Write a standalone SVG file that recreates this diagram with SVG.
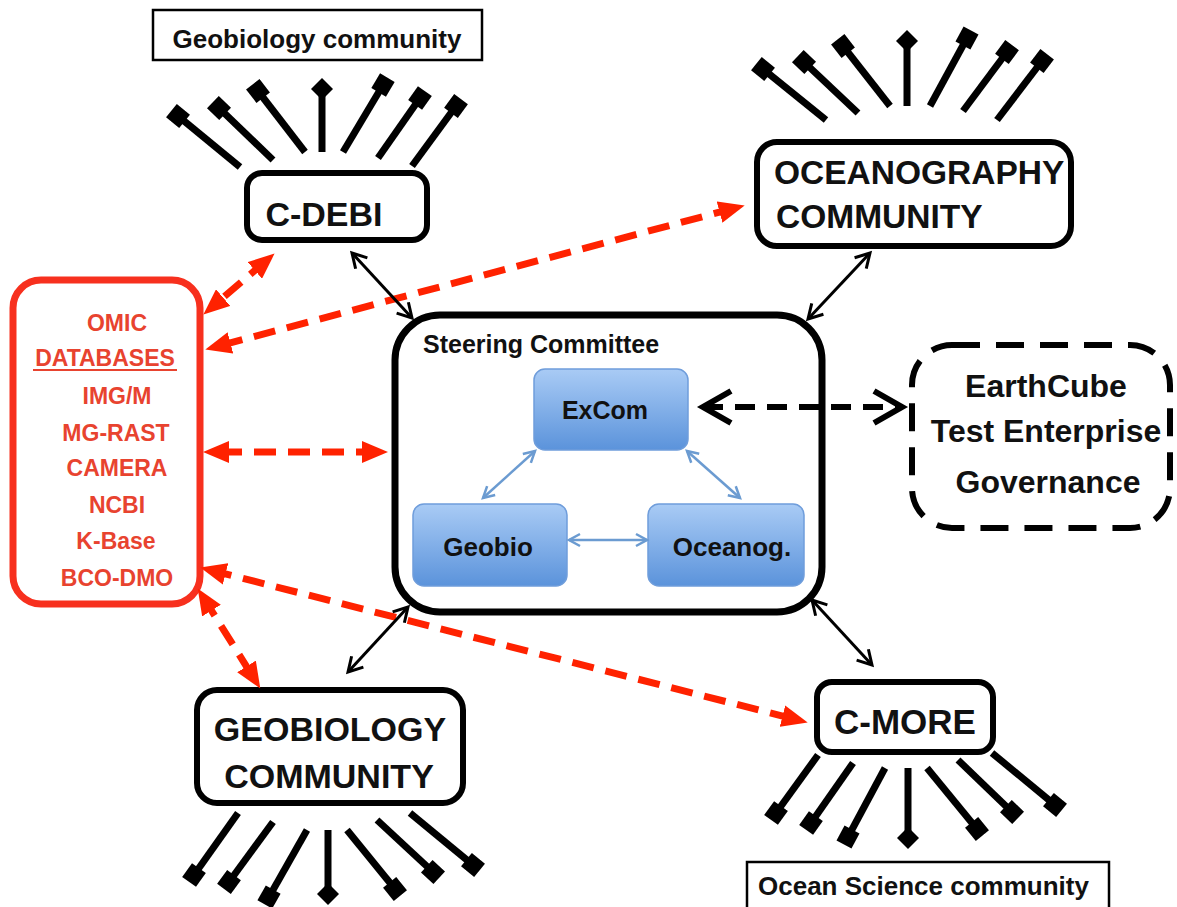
<svg xmlns="http://www.w3.org/2000/svg" width="1177" height="907" viewBox="0 0 1177 907">
<style>
text{font-family:"Liberation Sans",Arial,sans-serif;font-weight:bold;fill:#111}
.box{fill:#fff;stroke:#000;stroke-width:6}
.thin{fill:#fff;stroke:#000;stroke-width:2.5}
.ray{stroke:#000;stroke-width:7;fill:none}
.ray-sq{marker-end:url(#sq)}
.ray-dm{marker-end:url(#dm)}
.red{stroke:#ff2200;stroke-width:7;fill:none;stroke-dasharray:22 12;marker-start:url(#redhead);marker-end:url(#redhead)}
.blk{stroke:#000;stroke-width:3;fill:none;marker-start:url(#bhead);marker-end:url(#bhead)}
.blu{stroke:#6b9bd1;stroke-width:2.5;fill:none;marker-start:url(#uhead);marker-end:url(#uhead)}
.blue-box{fill:url(#bg);stroke:#6f9ddb;stroke-width:1.5}
.rt{fill:#e8432f;font-size:23px}
</style>
<defs>
<linearGradient id="bg" x1="0" y1="0" x2="0" y2="1">
<stop offset="0" stop-color="#a9cbf5"/>
<stop offset="1" stop-color="#5b93db"/>
</linearGradient>
<marker id="sq" markerUnits="userSpaceOnUse" viewBox="0 0 18 18" markerWidth="18" markerHeight="18" refX="9" refY="9" orient="auto">
<rect x="0.5" y="0.5" width="17" height="17" fill="#000"/>
</marker>
<marker id="dm" markerUnits="userSpaceOnUse" viewBox="0 0 22 22" markerWidth="22" markerHeight="22" refX="11" refY="11" orient="auto">
<polygon points="0,11 11,0 22,11 11,22" fill="#000"/>
</marker>
<marker id="redhead" markerUnits="userSpaceOnUse" viewBox="0 0 26 22" markerWidth="26" markerHeight="22" refX="16" refY="11" orient="auto-start-reverse">
<path d="M0,0 L26,11 L0,22 Z" fill="#ff2200"/>
</marker>
<marker id="bhead" markerUnits="userSpaceOnUse" viewBox="0 0 18 18" markerWidth="18" markerHeight="18" refX="15" refY="9" orient="auto-start-reverse" style="overflow:visible">
<path d="M1,1 L15,9 L1,17" fill="none" stroke="#000" stroke-width="3"/>
</marker>
<marker id="uhead" markerUnits="userSpaceOnUse" viewBox="0 0 14 14" markerWidth="14" markerHeight="14" refX="12" refY="7" orient="auto-start-reverse" style="overflow:visible">
<path d="M1,1 L12,7 L1,13" fill="none" stroke="#6b9bd1" stroke-width="2.5"/>
</marker>
<marker id="dhead" markerUnits="userSpaceOnUse" viewBox="0 0 34 36" markerWidth="34" markerHeight="36" refX="30" refY="18" orient="auto-start-reverse" style="overflow:visible">
<path d="M2,2 L30,18 L2,34" fill="none" stroke="#000" stroke-width="6"/>
</marker>
</defs>

<g id="rays-cdebi" class="ray">
<line class="ray-sq" x1="240" y1="167" x2="178" y2="116"/>
<line class="ray-sq" x1="273" y1="160" x2="219" y2="108"/>
<line class="ray-sq" x1="305" y1="152" x2="258" y2="91"/>
<line class="ray-dm" x1="322" y1="152" x2="322" y2="89"/>
<line class="ray-sq" x1="343" y1="152" x2="383" y2="85"/>
<line class="ray-sq" x1="378" y1="158" x2="420" y2="98"/>
<line class="ray-sq" x1="412" y1="166" x2="456" y2="106"/>
</g>
<g id="rays-ocean" class="ray">
<line class="ray-sq" x1="826" y1="120" x2="763" y2="69"/>
<line class="ray-sq" x1="858" y1="113" x2="804" y2="62"/>
<line class="ray-sq" x1="890" y1="106" x2="843" y2="46"/>
<line class="ray-dm" x1="907" y1="106" x2="907" y2="41"/>
<line class="ray-sq" x1="930" y1="106" x2="967" y2="38"/>
<line class="ray-sq" x1="963" y1="111" x2="1007" y2="52"/>
<line class="ray-sq" x1="997" y1="120" x2="1042" y2="61"/>
</g>
<g id="rays-geobio" class="ray">
<line class="ray-sq" x1="238" y1="813" x2="194" y2="875"/>
<line class="ray-sq" x1="273" y1="822" x2="229" y2="882"/>
<line class="ray-sq" x1="307" y1="830" x2="269" y2="897"/>
<line class="ray-dm" x1="328" y1="830" x2="328" y2="894"/>
<line class="ray-sq" x1="347" y1="830" x2="395" y2="889"/>
<line class="ray-sq" x1="377" y1="820" x2="433" y2="872"/>
<line class="ray-sq" x1="410" y1="813" x2="473" y2="865"/>
</g>
<g id="rays-cmore" class="ray">
<line class="ray-sq" x1="818" y1="755" x2="776" y2="813"/>
<line class="ray-sq" x1="853" y1="763" x2="811" y2="823"/>
<line class="ray-sq" x1="885" y1="768" x2="848" y2="837"/>
<line class="ray-dm" x1="908" y1="768" x2="908" y2="838"/>
<line class="ray-sq" x1="927" y1="768" x2="977" y2="829"/>
<line class="ray-sq" x1="958" y1="760" x2="1012" y2="812"/>
<line class="ray-sq" x1="992" y1="753" x2="1055" y2="805"/>
</g>

<g id="geobio-label-top">
<rect class="thin" x="153" y="10" width="329" height="50"/>
<text x="317" y="48" font-size="26" text-anchor="middle">Geobiology community</text>
</g>

<g id="cdebi">
<rect class="box" x="247" y="173" width="180" height="67" rx="15"/>
<text x="324" y="226" font-size="34" text-anchor="middle">C-DEBI</text>
</g>

<g id="oceanography">
<rect class="box" x="757" y="142" width="314" height="104" rx="20"/>
<text x="774" y="184" font-size="33.5">OCEANOGRAPHY</text>
<text x="776" y="228" font-size="33.5">COMMUNITY</text>
</g>

<g id="omic">
<rect x="13" y="280" width="187" height="324" rx="28" fill="#fff" stroke="#f7301e" stroke-width="7"/>
<text class="rt" x="117" y="331" text-anchor="middle">OMIC</text>
<text class="rt" x="105" y="366" text-anchor="middle">DATABASES</text>
<line x1="33" y1="370" x2="177" y2="370" stroke="#e8432f" stroke-width="2"/>
<text class="rt" x="117" y="404" text-anchor="middle">IMG/M</text>
<text class="rt" x="116" y="441" text-anchor="middle">MG-RAST</text>
<text class="rt" x="117" y="476" text-anchor="middle">CAMERA</text>
<text class="rt" x="117" y="513" text-anchor="middle">NCBI</text>
<text class="rt" x="116" y="549" text-anchor="middle">K-Base</text>
<text class="rt" x="117" y="586" text-anchor="middle">BCO-DMO</text>
</g>

<g id="steering">
<rect x="395" y="315" width="427" height="297" rx="45" fill="#fff" stroke="#000" stroke-width="7"/>
<text x="423" y="353" font-size="25">Steering Committee</text>
</g>

<g id="excom">
<rect class="blue-box" x="534" y="369" width="154" height="81" rx="11"/>
<text x="605" y="419" font-size="25" text-anchor="middle">ExCom</text>
</g>
<g id="geobio">
<rect class="blue-box" x="413" y="504" width="154" height="82" rx="11"/>
<text x="488" y="556" font-size="26" text-anchor="middle">Geobio</text>
</g>
<g id="oceanog">
<rect class="blue-box" x="648" y="504" width="156" height="82" rx="11"/>
<text x="732" y="556" font-size="26" text-anchor="middle">Oceanog.</text>
</g>

<g id="earthcube">
<rect x="912" y="345" width="258" height="183" rx="40" fill="#fff" stroke="#000" stroke-width="6" stroke-dasharray="28 16"/>
<text x="1046" y="397" font-size="32" text-anchor="middle">EarthCube</text>
<text x="1046" y="442" font-size="32" text-anchor="middle">Test Enterprise</text>
<text x="1048" y="493" font-size="32" text-anchor="middle">Governance</text>
</g>

<g id="geobiology-community">
<rect class="box" x="197" y="690" width="266" height="113" rx="20"/>
<text x="330" y="741" font-size="34" text-anchor="middle">GEOBIOLOGY</text>
<text x="329" y="788" font-size="34" text-anchor="middle">COMMUNITY</text>
</g>

<g id="cmore">
<rect class="box" x="817" y="682" width="176" height="70" rx="15"/>
<text x="905" y="734" font-size="35" text-anchor="middle">C-MORE</text>
</g>

<g id="ocean-science-label">
<rect class="thin" x="747" y="862" width="362" height="60"/>
<text x="758" y="895" font-size="26">Ocean Science community</text>
</g>

<g id="connectors">
<line class="red" x1="267" y1="260" x2="211" y2="308"/>
<line class="red" x1="735" y1="208" x2="215" y2="347"/>
<line class="red" x1="378" y1="452" x2="213" y2="452"/>
<line class="red" x1="210" y1="570" x2="798" y2="720"/>
<line class="red" x1="203" y1="597" x2="255" y2="680"/>
<line class="blk" x1="352" y1="253" x2="412" y2="318"/>
<line class="blk" x1="870" y1="253" x2="808" y2="319"/>
<line class="blk" x1="408" y1="607" x2="348" y2="672"/>
<line class="blk" x1="812" y1="600" x2="872" y2="665"/>
<line class="blu" x1="535" y1="451" x2="483" y2="498"/>
<line class="blu" x1="687" y1="451" x2="740" y2="498"/>
<line class="blu" x1="569" y1="540" x2="647" y2="540"/>
<line x1="703" y1="407" x2="902" y2="407" stroke="#000" stroke-width="6" stroke-dasharray="20 12" marker-start="url(#dhead)" marker-end="url(#dhead)"/>
</g>
</svg>
